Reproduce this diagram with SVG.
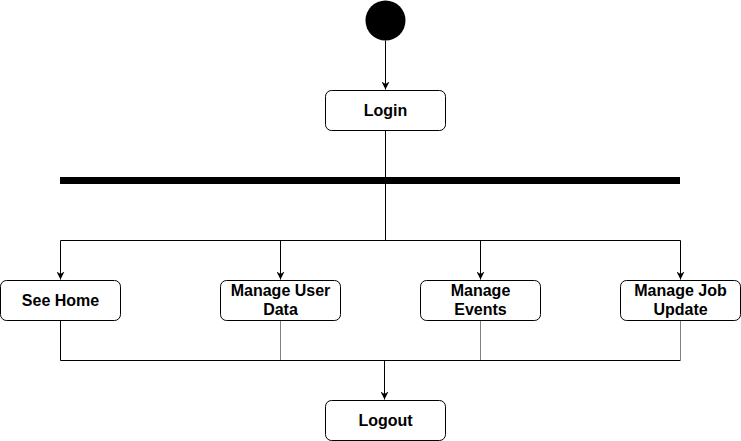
<svg xmlns="http://www.w3.org/2000/svg" width="741" height="441" viewBox="0 0 741 441">
<style>
.node rect{fill:#fff;stroke:#000;stroke-width:1}
.lbl{font-family:"Liberation Sans",Arial,Helvetica,sans-serif;font-size:16px;font-weight:bold;fill:#000;text-anchor:middle}
.edge{fill:none;stroke:#000;stroke-width:1}
.grey{stroke:#808080}
</style>
<defs>
<marker id="arr" viewBox="0 0 10 10" refX="10" refY="5" markerWidth="8" markerHeight="8" markerUnits="userSpaceOnUse" orient="auto">
<path d="M0,0 L10,5 L0,10 L3,5 Z" fill="#000"/>
</marker>
</defs>
<rect width="741" height="441" fill="#fff"/>
<g id="connectors">
<path class="edge" d="M385.5,40.5 V89.5" marker-end="url(#arr)"/>
<path class="edge" d="M385.5,130.5 V240.5"/>
<path class="edge" d="M60.5,240.5 H680.5"/>
<path class="edge" d="M60.5,240.5 V279.5" marker-end="url(#arr)"/>
<path class="edge" d="M280.5,240.5 V279.5" marker-end="url(#arr)"/>
<path class="edge" d="M480.5,240.5 V279.5" marker-end="url(#arr)"/>
<path class="edge" d="M680.5,240.5 V279.5" marker-end="url(#arr)"/>
<path class="edge" d="M60.5,320.5 V360.5 H680.5"/>
<path class="edge grey" d="M280.5,320.5 V360"/>
<path class="edge grey" d="M480.5,320.5 V360"/>
<path class="edge grey" d="M680.5,320.5 V360"/>
<path class="edge" d="M384.5,360.5 V399.5" marker-end="url(#arr)"/>
</g>
<g id="start"><circle cx="385.5" cy="20.5" r="20" fill="#000"/></g>
<g id="fork"><rect x="60" y="177" width="620" height="7" fill="#000"/></g>
<g id="login" class="node"><rect x="325.5" y="90.5" width="120" height="40" rx="6"/><text class="lbl" x="385.5" y="116">Login</text></g>
<g id="seehome" class="node"><rect x="0.5" y="280.5" width="120" height="40" rx="6"/><text class="lbl" x="60.5" y="306">See Home</text></g>
<g id="manageuser" class="node"><rect x="220.5" y="280.5" width="120" height="40" rx="6"/><text class="lbl" x="280.5" y="296">Manage User<tspan x="280.5" dy="19">Data</tspan></text></g>
<g id="manageevents" class="node"><rect x="420.5" y="280.5" width="120" height="40" rx="6"/><text class="lbl" x="480.5" y="296">Manage<tspan x="480.5" dy="19">Events</tspan></text></g>
<g id="managejob" class="node"><rect x="620.5" y="280.5" width="120" height="40" rx="6"/><text class="lbl" x="680.5" y="296">Manage Job<tspan x="680.5" dy="19">Update</tspan></text></g>
<g id="logout" class="node"><rect x="325.5" y="400.5" width="120" height="40" rx="6"/><text class="lbl" x="385.5" y="426">Logout</text></g>
</svg>
